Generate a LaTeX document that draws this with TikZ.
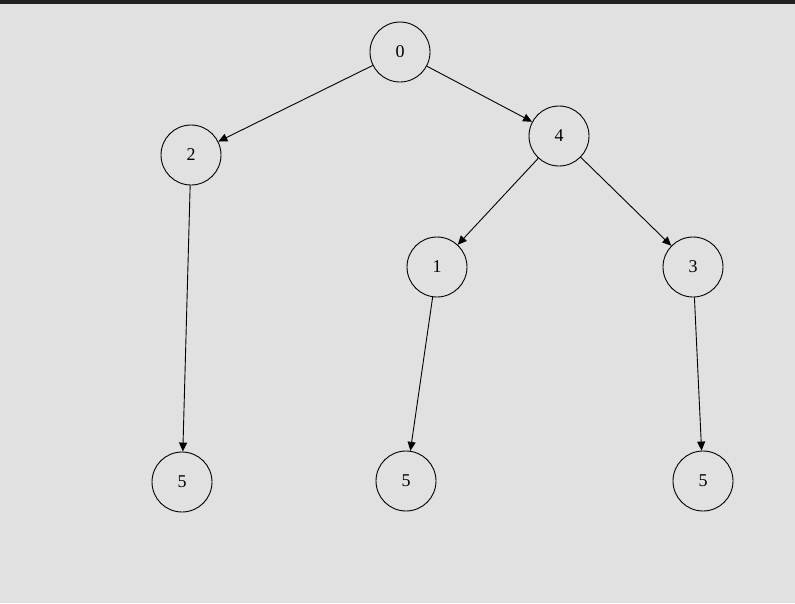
\documentclass[tikz,border=0pt]{standalone}
\usepackage{fontspec}
\setmainfont{Liberation Serif}
\usetikzlibrary{arrows.meta}
\definecolor{canvas}{HTML}{E1E1E1}
\definecolor{topbar}{HTML}{222222}
\begin{document}
\begin{tikzpicture}[x=1pt,y=-1pt,
  vertex/.style={circle,draw=black,line width=0.9pt,minimum size=60pt,inner sep=0pt,font=\fontsize{18}{20}\selectfont},
  edge/.style={draw=black,line width=0.9pt,-{Triangle[length=9pt,width=8pt]}}]
  % canvas and top strip
  \fill[canvas] (0,0) rectangle (795,603);
  \fill[topbar] (0,0) rectangle (795,4);
  \useasboundingbox (0,0) rectangle (795,603);
  % vertices
  \node[vertex] (n0) at (400,52) {0};
  \node[vertex] (n2) at (191,155) {2};
  \node[vertex] (n4) at (559,136) {4};
  \node[vertex] (n1) at (437,267) {1};
  \node[vertex] (n3) at (693,267) {3};
  \node[vertex] (l2) at (182,482) {5};
  \node[vertex] (l1) at (406,481) {5};
  \node[vertex] (l3) at (703,481) {5};
  % edges
  \draw[edge] (n0) -- (n2);
  \draw[edge] (n0) -- (n4);
  \draw[edge] (n4) -- (n1);
  \draw[edge] (n4) -- (n3);
  \draw[edge] (n2) -- (l2);
  \draw[edge] (n1) -- (l1);
  \draw[edge] (n3) -- (l3);
\end{tikzpicture}
\end{document}
